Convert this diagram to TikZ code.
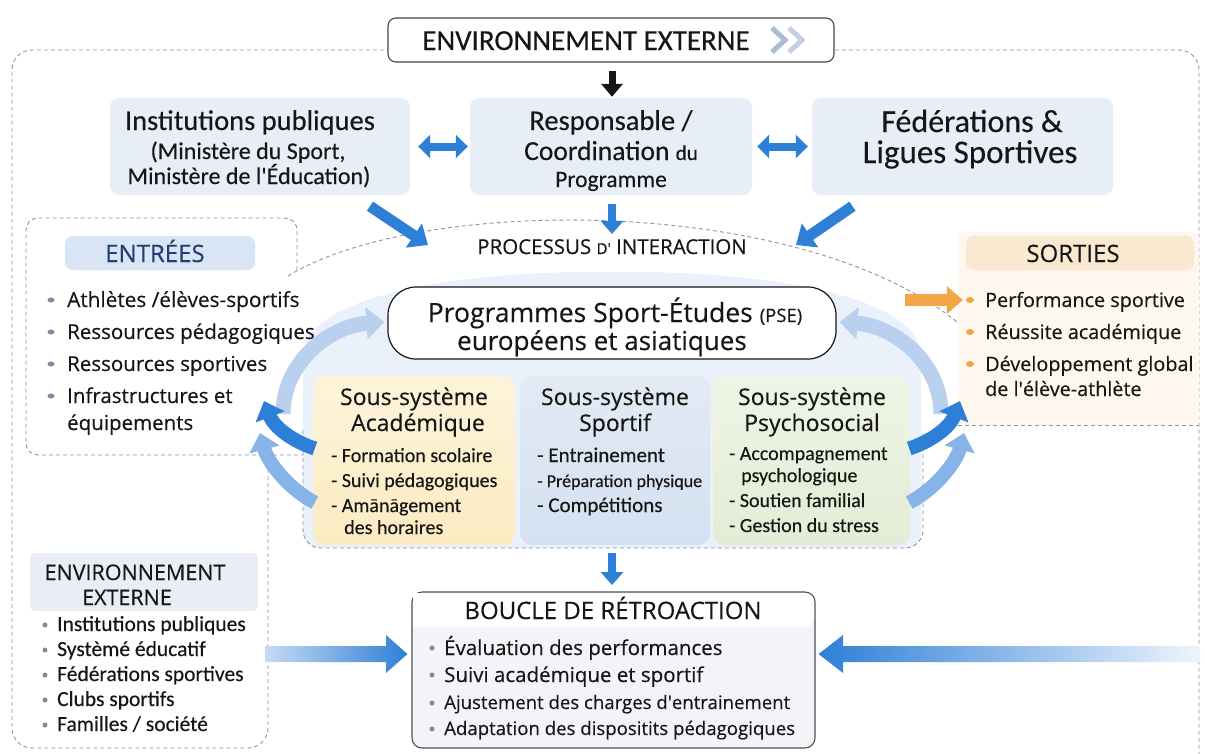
\documentclass[tikz,border=0pt]{standalone}
\usepackage{fontspec}
\setmainfont{Open Sans}[FakeBold=0.35]
\newfontfamily\carl{Carlito}[FakeBold=0.3]
\usetikzlibrary{arrows.meta,calc,shapes.geometric}
\definecolor{ink}{HTML}{161616}
\definecolor{dashgray}{HTML}{8A94A6}
\definecolor{boxblue}{HTML}{E8EEF7}
\definecolor{arrowblue}{HTML}{2E7FD6}
\definecolor{lightarc}{HTML}{B9D1EE}
\definecolor{midarc}{HTML}{86B3E8}
\definecolor{blobblue}{HTML}{EAF1FA}
\definecolor{yelA}{HTML}{FDF4D9}
\definecolor{yelB}{HTML}{FBEBC2}
\definecolor{bluA}{HTML}{E2EAF5}
\definecolor{bluB}{HTML}{D5E1F1}
\definecolor{grnA}{HTML}{EFF5E6}
\definecolor{grnB}{HTML}{E3ECD5}
\definecolor{orangeA}{HTML}{F2A647}
\definecolor{sortbg}{HTML}{FEF7EE}
\definecolor{sorthd}{HTML}{FBE8D0}
\definecolor{entrhd}{HTML}{D9E5F4}
\definecolor{entrtxt}{HTML}{223E70}
\definecolor{bulgray}{HTML}{7D8BA0}
\definecolor{chev}{HTML}{A9BCD6}
\definecolor{envhd}{HTML}{E9EEF6}
\definecolor{bouclebg}{HTML}{F3F4F8}
\newcommand\fsz[1]{\fontsize{#1}{#1}\selectfont}
\newcommand\ap{\textquotesingle}
\tikzset{
  dashln/.style={draw=dashgray, line width=0.9pt, dash pattern=on 4pt off 3pt},
  ctxt/.style={anchor=base, inner sep=0pt, text=ink},
  ltxt/.style={anchor=base west, inner sep=0pt, text=ink},
  topbox/.style={fill=boxblue, rounded corners=9pt, inner sep=0pt},
  subbox/.style={rounded corners=12pt, inner sep=0pt},
  fatarrow/.style={line width=11pt, draw=arrowblue, -{Triangle[length=17pt,width=28pt]}},
  midarrow/.style={line width=8pt, draw=arrowblue, -{Triangle[length=13pt,width=22pt]}},
  dblarrow/.style={line width=8pt, draw=arrowblue, {Triangle[length=12pt,width=23pt]}-{Triangle[length=12pt,width=23pt]}},
  arclight/.style={line width=15pt, draw=lightarc, -{Triangle[length=18pt,width=31pt]}},
  arcdark/.style={line width=14pt, draw=arrowblue, -{Triangle[length=17pt,width=30pt]}},
  arcmid/.style={line width=14pt, draw=midarc, -{Triangle[length=17pt,width=30pt]}},
  bul/.style={circle, fill=bulgray, inner sep=0pt, minimum size=5pt},
  obul/.style={ellipse, fill=orangeA, inner sep=0pt, minimum width=8pt, minimum height=6pt},
}
\begin{document}
\begin{tikzpicture}[x=1pt,y=-1pt]
\useasboundingbox (0,0) rectangle (1205,753);
\fill[white] (0,0) rectangle (1205,753);

% outer dashed frame and bottom-left box
\draw[dashln, rounded corners=20pt] (268,455) -- (268,748) -- (12,748) -- (12,50) -- (1199,50) -- (1199,760);

% SORTIES background
\fill[sortbg, rounded corners=8pt] (958,232) rectangle (1199,425);
\draw[dashln] (958,425) -- (1199,425);

% ENTREES dashed box
\draw[dashln, rounded corners=12pt] (297,270) -- (297,218) -- (26,218) -- (26,455) -- (310,455);

% blob behind programme
\fill[blobblue, rounded corners=16pt] (303,548) -- (303,372) .. controls (303,300) and (440,272) .. (612,272) .. controls (784,272) and (921,300) .. (921,372) -- (921,548) -- cycle;
\draw[dashln, rounded corners=18pt] (303,430) -- (303,548) -- (923,548) -- (923,430);

% processus dashed arc
\draw[dashln] (288,276) .. controls (420,195) and (800,195) .. (957,322);

% title box
\node[draw=ink!80, line width=1.1pt, fill=white, rounded corners=8pt, minimum width=446pt, minimum height=44pt, inner sep=0pt] (title) at (611,40) {};
\node[ctxt, font=\carl\fsz{29}] (tt) at (586,50) {ENVIRONNEMENT EXTERNE};
\draw[chev, line width=5pt] (772,28) -- (785,40) -- (772,52);
\draw[chev!70, line width=5pt] (789,28) -- (802,40) -- (789,52);

% top boxes
\node[topbox, minimum width=300pt, minimum height=97pt] (ins) at (260,146.5) {};
\node[topbox, minimum width=282pt, minimum height=97pt] (resp) at (611,146.5) {};
\node[topbox, minimum width=301pt, minimum height=97pt] (fed) at (962.5,146.5) {};
\node[ctxt, font=\carl\fsz{28.5}] (i1) at (250,130) {Institutions publiques};
\node[ctxt, font=\carl\fsz{24}] (i2) at (248,159) {(Ministère du Sport,};
\node[ctxt, font=\carl\fsz{24}] (i3) at (249,184) {Ministère de l\ap Éducation)};
\node[ctxt, font=\carl\fsz{28.5}] (r1) at (611,130) {Responsable /};
\node[ctxt, font=\carl\fsz{27.5}] (r2) at (611,160) {Coordination {\fsz{21}du}};
\node[ctxt, font=\carl\fsz{23.5}] (r3) at (611,187) {Programme};
\node[ctxt, font=\carl\fsz{32}] (f1) at (972,132) {Fédérations \&};
\node[ctxt, font=\carl\fsz{33}] (f2) at (970,163) {Ligues Sportives};

% black arrow
\draw[line width=7pt, draw=ink, -{Triangle[length=13pt,width=21pt]}] ($(title.south)+(1,8)$) -- ($(resp.north)+(1,-1)$);
% double arrows
\draw[dblarrow] ($(ins.east)+(8,0)$) -- ($(resp.west)+(-2,0)$);
\draw[dblarrow] ($(resp.east)+(5,0)$) -- ($(fed.west)+(-4,0)$);

% processus label
\node[ctxt, font=\fsz{20.5}] (proc) at (612,254) {PROCESSUS {\fsz{15}D\ap} INTERACTION};
\coordinate (pl) at (428,245);
\coordinate (pr) at (796,245);
\draw[fatarrow] ($(ins.south)+(110,11)$) -- (pl);
\draw[fatarrow] ($(fed.south)+(-110,11)$) -- (pr);
\draw[midarrow] ($(resp.south)+(1,9)$) -- ($(proc.north)+(0,-5)$);

% programme box
\node[draw=ink, line width=1.2pt, fill=white, rounded corners=28pt, minimum width=448pt, minimum height=72pt, inner sep=0pt] (pse) at (612,323) {};
\node[ctxt, font=\fsz{26.5}] (p1) at (615,322) {Programmes Sport-Études {\fsz{18.5}(PSE)}};
\node[ctxt, font=\fsz{26}] (p2) at (602,350) {européens et asiatiques};

% subsystem boxes
\node[subbox, top color=yelA, bottom color=yelB, minimum width=202pt, minimum height=169pt] (acad) at (414,460.5) {};
\node[subbox, top color=bluA, bottom color=bluB, minimum width=190pt, minimum height=169pt] (sport) at (615,460.5) {};
\node[subbox, top color=grnA, bottom color=grnB, minimum width=197pt, minimum height=169pt] (psy) at (811.5,460.5) {};

\node[ctxt, font=\fsz{23}] (a1) at (414,405) {Sous-système};
\node[ctxt, font=\fsz{23}] (a2) at (418,431) {Académique};
\node[ctxt, font=\fsz{23}] (s1) at (615,405) {Sous-système};
\node[ctxt, font=\fsz{23}] (s2) at (615,431) {Sportif};
\node[ctxt, font=\fsz{23}] (y1) at (812,405) {Sous-système};
\node[ctxt, font=\fsz{23}] (y2) at (812,431) {Psychosocial};

\node[ltxt, font=\carl\fsz{20}] (a3) at (331,462) {- Formation scolaire};
\node[ltxt, font=\carl\fsz{20}] (a4) at (331,487) {- Suivi pédagogiques};
\node[ltxt, font=\carl\fsz{20}] (a5) at (331,512) {- Amānāgement};
\node[ltxt, font=\carl\fsz{20}] (a6) at (344,534) {des horaires};
\node[ltxt, font=\carl\fsz{21}] (s3) at (537,462) {- Entrainement};
\node[ltxt, font=\carl\fsz{18}] (s4) at (537,487) {- Préparation physique};
\node[ltxt, font=\carl\fsz{21}] (s5) at (537,512) {- Compétitions};
\node[ltxt, font=\carl\fsz{20}] (y3) at (729,460) {- Accompagnement};
\node[ltxt, font=\carl\fsz{20}] (y4) at (741,482) {psychologique};
\node[ltxt, font=\carl\fsz{20}] (y5) at (729,507) {- Soutien familial};
\node[ltxt, font=\carl\fsz{20}] (y6) at (729,532) {- Gestion du stress};

% curved arrows left
\coordinate (la) at (283,414);
\coordinate (lt1) at (264,401);
\coordinate (lt2) at (260,433);
\draw[arclight] (la) .. controls (283,362) and (330,326) .. ($(pse.west)+(-3,-1)$);
\draw[arcdark] ($(acad.west)+(2,-12)$) .. controls (292,441) and (274,427) .. (lt1);
\draw[arcmid] ($(acad.west)+(2,42)$) .. controls (290,490) and (268,463) .. (lt2);
% curved arrows right
\coordinate (ra) at (941,414);
\coordinate (rt1) at (960,401);
\coordinate (rt2) at (964,433);
\draw[arclight] (ra) .. controls (941,362) and (894,326) .. ($(pse.east)+(3,-1)$);
\draw[arcdark] ($(psy.east)+(-1,-12)$) .. controls (932,441) and (950,427) .. (rt1);
\draw[arcmid] ($(psy.east)+(-1,42)$) .. controls (934,490) and (956,463) .. (rt2);

% ENTREES
\node[fill=entrhd, rounded corners=8pt, minimum width=190pt, minimum height=34pt, inner sep=0pt] (entrhead) at (160,253) {};
\node[ctxt, font=\fsz{24}, text=entrtxt] (entrt) at (155,262) {ENTRÉES};
\node[ltxt, font=\fsz{20.8}] (e1) at (67,307) {Athlètes /élèves-sportifs};
\node[ltxt, font=\fsz{20.5}] (e2) at (67,339) {Ressources pédagogiques};
\node[ltxt, font=\fsz{20.5}] (e3) at (67,371) {Ressources sportives};
\node[ltxt, font=\fsz{20.5}] (e4) at (67,403) {Infrastructures et};
\node[ltxt, font=\fsz{20.5}] (e5) at (67,430) {équipements};
\foreach \yy/\nm in {300/eb1,332/eb2,364/eb3,396/eb4}
  \node[ellipse, fill=bulgray, inner sep=0pt, minimum width=7pt, minimum height=5pt] (\nm) at (51,\yy) {};

% SORTIES
\node[fill=sorthd, rounded corners=8pt, minimum width=228pt, minimum height=34pt, inner sep=0pt] (sorthead) at (1080,253) {};
\node[ctxt, font=\fsz{24}] (sortt) at (1073,262) {SORTIES};
\node[ltxt, font=\fsz{19.8}] (o1) at (985,307) {Performance sportive};
\node[ltxt, font=\fsz{19.8}] (o2) at (985,339) {Réussite académique};
\node[ltxt, font=\fsz{19.8}] (o3) at (985,371) {Développement global};
\node[ltxt, font=\fsz{19.8}] (o4) at (985,396) {de l\ap élève-athlète};
\node[obul] (ob1) at (970,300) {};
\node[obul] (ob2) at (970,332) {};
\node[obul] (ob3) at (970,364) {};
\coordinate (oa) at (905,300);
\draw[line width=12pt, draw=orangeA, -{Triangle[length=16pt,width=27pt]}] (oa) -- ($(ob1.west)+(-3,0)$);

% down arrow to feedback
\draw[midarrow] (612,553) -- (612,585);

% BOUCLE
\node[draw=ink!75, line width=1.1pt, fill=bouclebg, rounded corners=10pt, minimum width=403pt, minimum height=156pt, inner sep=0pt] (boucle) at (613.5,670) {};
\fill[white, rounded corners=9pt] (413,593) -- (814,593) -- (814,627) [sharp corners] -- (413,627) -- cycle;
\node[ctxt, font=\fsz{24}] (bt) at (613,619) {BOUCLE DE RÉTROACTION};
\node[ltxt, font=\fsz{20.5}] (b1) at (444,655) {Évaluation des performances};
\node[ltxt, font=\fsz{20.5}] (b2) at (444,682) {Suivi académique et sportif};
\node[ltxt, font=\fsz{18.6}] (b3) at (444,709) {Ajustement des charges d\ap entrainement};
\node[ltxt, font=\fsz{18.6}] (b4) at (444,735) {Adaptation des dispositits pédagogiques};
\foreach \yy/\nm in {648/bb1,675/bb2,703/bb3,729/bb4}
  \node[bul] (\nm) at (432,\yy) {};

% horizontal arrows to feedback
\coordinate (tipL) at ($(boucle.west)+(-4,-16)$);
\coordinate (tipR) at ($(boucle.east)+(3,-16)$);
\shade[left color=lightarc!80, right color=arrowblue] (265,646) -- (386,646) -- (386,635) -- (tipL) -- (386,673) -- (386,662) -- (265,662) -- cycle;
\shade[left color=arrowblue, right color=arrowblue!8] (tipR) -- (843,635) -- (843,646) -- (1200,646) -- (1200,662) -- (843,662) -- (843,673) -- cycle;

% ENVIRONNEMENT EXTERNE (bottom-left)
\node[fill=envhd, rounded corners=6pt, minimum width=228pt, minimum height=58pt, inner sep=0pt] (envhead) at (144,582) {};
\node[ctxt, font=\fsz{21.5}] (h1) at (135,580) {ENVIRONNEMENT};
\node[ctxt, font=\fsz{21.5}] (h2) at (127,605) {EXTERNE};
\node[ltxt, font=\carl\fsz{21.5}] (v1) at (57,631) {Institutions publiques};
\node[ltxt, font=\carl\fsz{21.5}] (v2) at (57,656) {Systèmé éducatif};
\node[ltxt, font=\carl\fsz{21.5}] (v3) at (57,681) {Fédérations sportives};
\node[ltxt, font=\carl\fsz{21.5}] (v4) at (57,706) {Clubs sportifs};
\node[ltxt, font=\carl\fsz{21.5}] (v5) at (57,731) {Familles / société};
\foreach \yy/\nm in {625/vb1,650/vb2,675/vb3,700/vb4,725/vb5}
  \node[bul] (\nm) at (45,\yy) {};
\end{tikzpicture}
\end{document}
